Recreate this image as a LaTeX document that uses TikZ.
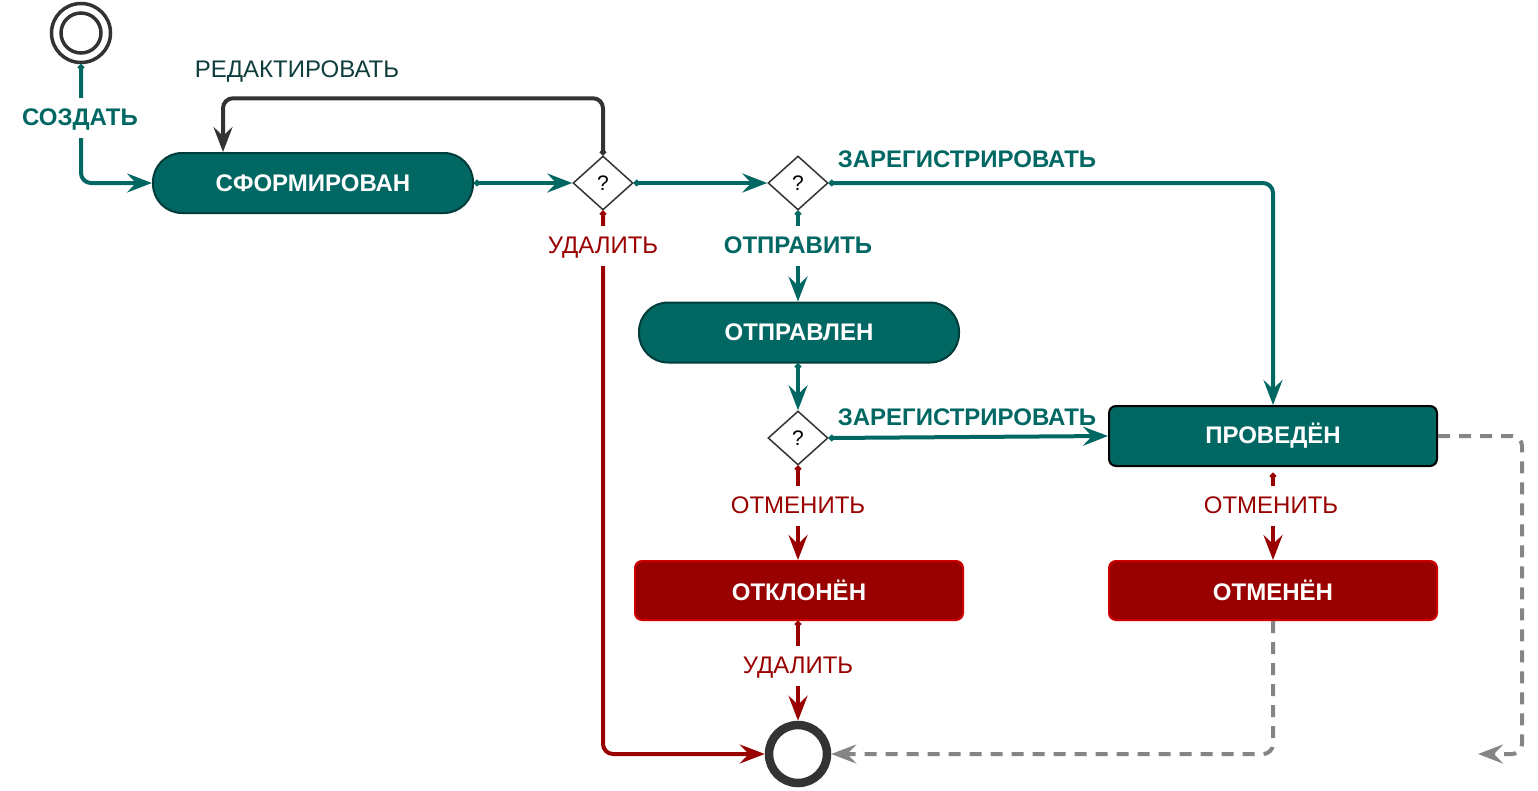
\documentclass[tikz,border=0pt]{standalone}
\usepackage{fontspec}
\setmainfont{Liberation Sans}
\usetikzlibrary{arrows.meta,shapes.geometric}
\definecolor{tealc}{HTML}{006763}
\definecolor{tealb}{HTML}{003D3A}
\definecolor{redc}{HTML}{990000}
\definecolor{redb}{HTML}{CC0000}
\definecolor{darkc}{HTML}{333333}
\definecolor{editc}{HTML}{0F3D3D}
\definecolor{grayc}{HTML}{858585}
\tikzset{
  tip/.style={-{Stealth[length=25pt,width=19pt,inset=9pt]}},
  dottip/.style={{Circle[length=6pt]}-{Stealth[length=25pt,width=19pt,inset=9pt]}},
  conn/.style={line width=4pt, rounded corners=10pt},
  tealline/.style={conn, draw=tealc, dottip},
  redline/.style={conn, draw=redc, dottip},
  darkline/.style={conn, draw=darkc, dottip},
  grayline/.style={conn, draw=grayc, tip, dash pattern=on 12pt off 9pt},
  nfont/.style={font=\fontsize{24}{28}\selectfont\bfseries},
  stadium/.style={draw=tealb, line width=2pt, fill=tealc, rounded corners=29pt,
    minimum width=320pt, minimum height=60pt, text=white, nfont},
  statebox/.style={draw=black, line width=2pt, fill=tealc, rounded corners=7pt,
    minimum width=328pt, minimum height=60pt, text=white, nfont},
  redbox/.style={draw=redb, line width=2pt, fill=redc, rounded corners=7pt,
    minimum width=328pt, minimum height=59pt, text=white, nfont},
  choice/.style={diamond, draw=darkc, line width=1.5pt, fill=white, minimum width=60pt,
    minimum height=54pt, inner sep=0pt, font=\fontsize{21}{24}\selectfont},
  lblb/.style={text=tealc, nfont, text height=17pt, text depth=3pt},
  lblr/.style={text=redc, font=\fontsize{24}{28}\selectfont, text height=17pt, text depth=3pt},
  gapfill/.style={fill=white, inner xsep=2pt, inner ysep=10pt},
}
\begin{document}
\begin{tikzpicture}[x=1pt,y=-1pt]
\useasboundingbox (0,0) rectangle (1538,790);
% states
\node[circle, draw=darkc, line width=3.5pt, minimum size=59pt, inner sep=0pt] (start) at (81,33) {};
\node[circle, draw=darkc, line width=3.5pt, minimum size=40pt, inner sep=0pt] (starti) at (81,33) {};
\node[stadium] (sform) at (313,183) {СФОРМИРОВАН};
\node[choice] (d1) at (603,183) {?};
\node[choice] (d2) at (798,183) {?};
\node[stadium] (sent) at (799,332.5) {ОТПРАВЛЕН};
\node[choice] (d3) at (798,438) {?};
\node[statebox] (done) at (1273,436) {ПРОВЕДЁН};
\node[redbox] (rej) at (799,590.5) {ОТКЛОНЁН};
\node[redbox] (canc) at (1273,590.5) {ОТМЕНЁН};
\node[circle, draw=darkc, line width=8.5pt, minimum size=58pt, inner sep=0pt] (endc) at (798,754) {};
\coordinate (dashend) at (1478,754);
% connectors
\draw[tealline] (start.south) |- (sform.west);
\draw[tealline] (sform.east) -- (d1.west);
\draw[darkline] (d1.north) -- ++(0,-57) -| ([xshift=71pt]sform.north west);
\draw[tealline] (d1.east) -- (d2.west);
\draw[redline] (d1.south) |- (endc.west);
\draw[tealline] (d2.east) -| (done.north);
\draw[tealline] (d2.south) -- (sent.north -| d2.south);
\draw[tealline] (sent.south -| d3.north) -- (d3.north);
\draw[tealline] (d3.east) -- (done.west);
\draw[redline] (d3.south) -- (rej.north -| d3.south);
\draw[redline] (rej.south -| endc.north) -- (endc.north);
\draw[redline] ([yshift=-6pt]done.south) -- (canc.north);
\draw[grayline] (canc.south) |- (endc.east);
\draw[grayline] (done.east) -- ++(84,0) |- (dashend);
% labels
\node[lblb, gapfill] (lcreate) at (80,118) {СОЗДАТЬ};
\node[font=\fontsize{24}{28}\selectfont, text=editc] (ledit) at (297,72) {РЕДАКТИРОВАТЬ};
\node[lblr, gapfill] (ldel1) at (603,246) {УДАЛИТЬ};
\node[lblb] (lreg1) at (967,160) {ЗАРЕГИСТРИРОВАТЬ};
\node[lblb, gapfill] (lsend) at (798,246) {ОТПРАВИТЬ};
\node[lblb] (lreg2) at (967,418) {ЗАРЕГИСТРИРОВАТЬ};
\node[lblr, gapfill] (lcanc1) at (798,506) {ОТМЕНИТЬ};
\node[lblr, gapfill] (lcanc2) at (1271,506) {ОТМЕНИТЬ};
\node[lblr, gapfill] (ldel2) at (798,666) {УДАЛИТЬ};
\end{tikzpicture}
\end{document}
